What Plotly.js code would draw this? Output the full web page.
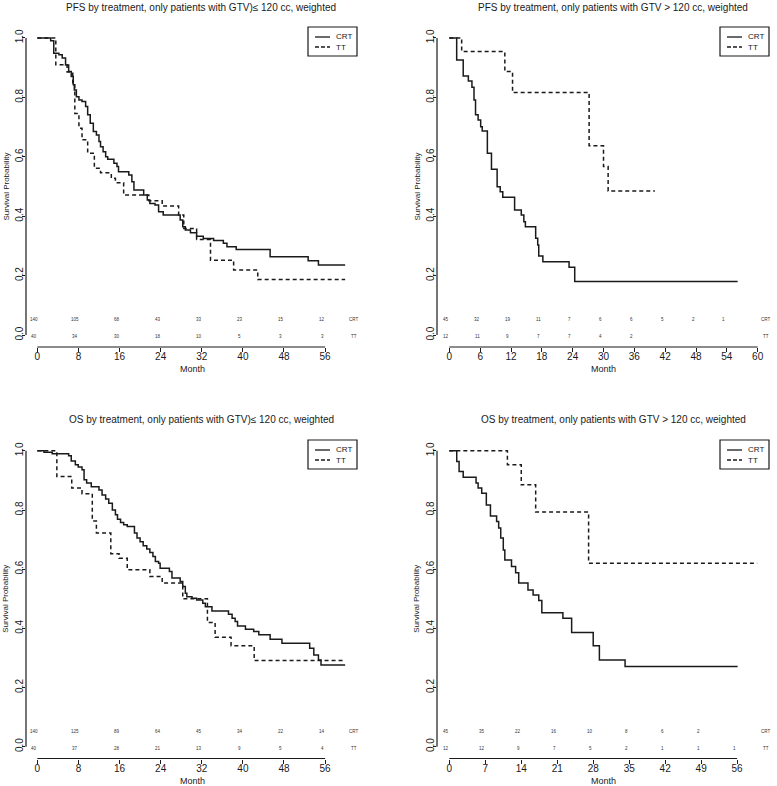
<!DOCTYPE html>
<html>
<head>
<meta charset="utf-8">
<script src="https://cdn.plot.ly/plotly-3.0.1.min.js"></script>
<style>html,body{margin:0;padding:0;background:#fff;}#chart{width:777px;height:786px;}</style>
</head>
<body>
<div id="chart"></div>
<script>
// ---------- Data ----------
// Panel 1: PFS, GTV <= 120 cc
const pfsLowCRT_t = [0, 2.6, 3.2, 4.2, 4.85, 5.5, 6.1, 6.6, 7.0, 7.2, 7.6, 8.1, 8.7, 9.4, 9.8, 10.3, 10.9, 11.5, 12.0, 12.3, 12.8, 13.3, 13.7, 14.9, 15.5, 15.8, 17.8, 18.4, 18.8, 20.7, 21.4, 21.9, 22.9, 23.6, 24.5, 27.8, 28.3, 28.8, 29.8, 31.0, 32.3, 34.3, 36.2, 36.9, 38.7, 45.3, 52.7, 54.7, 59.9];
const pfsLowCRT_s = [1, 0.99, 0.948, 0.943, 0.932, 0.909, 0.887, 0.87, 0.842, 0.825, 0.802, 0.791, 0.786, 0.769, 0.741, 0.713, 0.685, 0.673, 0.651, 0.634, 0.617, 0.6, 0.592, 0.578, 0.567, 0.55, 0.539, 0.516, 0.488, 0.471, 0.455, 0.443, 0.438, 0.415, 0.404, 0.387, 0.365, 0.354, 0.344, 0.333, 0.325, 0.318, 0.309, 0.297, 0.288, 0.264, 0.25, 0.236, 0.236];
const pfsLowTT_t = [0, 3.6, 5.8, 6.9, 7.3, 8.1, 8.7, 9.8, 11.1, 12.3, 14.4, 15.2, 16.8, 21.7, 24.3, 27.5, 28.5, 31.0, 33.7, 38.2, 42.9, 59.9];
const pfsLowTT_s = [1, 0.91, 0.885, 0.842, 0.746, 0.696, 0.657, 0.612, 0.561, 0.546, 0.528, 0.513, 0.471, 0.452, 0.434, 0.404, 0.359, 0.322, 0.252, 0.219, 0.187, 0.187];
const pfsLowTicks = [0, 8, 16, 24, 32, 40, 48, 56];
const pfsLowRiskCRT = [140, 105, 68, 43, 33, 23, 15, 12];
const pfsLowRiskTT = [40, 34, 30, 18, 10, 5, 3, 3];

// Panel 2: PFS, GTV > 120 cc
const pfsHighCRT_t = [0, 1.43, 2.7, 3.7, 4.4, 4.8, 5.1, 5.6, 6.1, 6.4, 7.4, 8.2, 9.3, 9.9, 10.4, 12.7, 14.0, 14.5, 14.8, 16.8, 17.2, 17.4, 18.2, 23.3, 24.4, 56.1];
const pfsHighCRT_s = [1, 0.926, 0.872, 0.855, 0.834, 0.791, 0.741, 0.724, 0.701, 0.687, 0.612, 0.558, 0.499, 0.482, 0.464, 0.421, 0.404, 0.381, 0.365, 0.326, 0.303, 0.266, 0.247, 0.228, 0.18, 0.18];
const pfsHighTT_t = [0, 2.4, 10.8, 12.3, 27.2, 30.0, 30.9, 40.0];
const pfsHighTT_s = [1, 0.954, 0.887, 0.816, 0.637, 0.567, 0.485, 0.485];
const pfsHighTicks = [0, 6, 12, 18, 24, 30, 36, 42, 48, 54, 60];
const pfsHighRiskCRT = [45, 32, 19, 11, 7, 6, 6, 5, 2, 1];
const pfsHighRiskTT = [12, 11, 9, 7, 7, 4, 2];

// Panel 3: OS, GTV <= 120 cc
const osLowCRT_t = [0, 1.3, 2.9, 6.1, 6.6, 7.4, 7.96, 8.7, 9.1, 9.6, 10.5, 12.0, 12.6, 13.3, 13.9, 14.6, 15.2, 15.6, 16.2, 16.8, 17.5, 18.9, 19.4, 20.0, 20.6, 21.3, 21.9, 22.5, 22.97, 23.6, 23.9, 25.7, 26.2, 27.8, 28.3, 28.8, 29.1, 30.1, 31.0, 32.2, 32.7, 33.98, 37.2, 37.9, 38.5, 38.96, 40.5, 42.1, 43.1, 45.3, 47.6, 53.0, 53.8, 54.7, 55.2, 59.9];
const osLowCRT_s = [1, 0.995, 0.99, 0.983, 0.966, 0.953, 0.945, 0.936, 0.902, 0.891, 0.879, 0.868, 0.851, 0.837, 0.823, 0.8, 0.784, 0.769, 0.758, 0.75, 0.744, 0.722, 0.705, 0.693, 0.679, 0.668, 0.656, 0.643, 0.626, 0.62, 0.603, 0.592, 0.57, 0.558, 0.541, 0.519, 0.507, 0.502, 0.496, 0.485, 0.473, 0.459, 0.448, 0.434, 0.423, 0.408, 0.397, 0.389, 0.378, 0.363, 0.35, 0.333, 0.31, 0.293, 0.276, 0.276];
const osLowTT_t = [0, 3.8, 6.7, 8.7, 10.7, 11.5, 14.3, 15.9, 17.5, 21.9, 24.3, 28.3, 33.1, 34.6, 37.7, 42.2, 59.9];
const osLowTT_s = [1, 0.913, 0.874, 0.855, 0.763, 0.722, 0.652, 0.637, 0.598, 0.575, 0.553, 0.5, 0.42, 0.37, 0.341, 0.291, 0.291];
const osLowTicks = [0, 8, 16, 24, 32, 40, 48, 56];
const osLowRiskCRT = [140, 125, 89, 64, 45, 34, 22, 14];
const osLowRiskTT = [40, 37, 28, 21, 13, 9, 5, 4];

// Panel 4: OS, GTV > 120 cc
const osHighCRT_t = [0, 1.44, 1.9, 2.7, 5.2, 5.6, 6.3, 7.2, 8.0, 9.2, 9.6, 10.0, 10.5, 10.8, 12.1, 12.9, 13.5, 15.3, 16.3, 17.4, 18.0, 22.1, 23.8, 28.0, 29.2, 34.2, 56.1];
const osHighCRT_s = [1, 0.964, 0.93, 0.911, 0.891, 0.874, 0.857, 0.817, 0.78, 0.761, 0.739, 0.705, 0.665, 0.631, 0.609, 0.588, 0.553, 0.53, 0.513, 0.494, 0.453, 0.434, 0.386, 0.341, 0.293, 0.271, 0.271];
const osHighTT_t = [0, 11.3, 14.0, 16.8, 27.1, 59.9];
const osHighTT_s = [1, 0.953, 0.885, 0.793, 0.62, 0.62];
const osHighTicks = [0, 7, 14, 21, 28, 35, 42, 49, 56];
const osHighRiskCRT = [45, 35, 22, 16, 10, 8, 6, 2];
const osHighRiskTT = [12, 12, 9, 7, 5, 2, 1, 1, 1];

const yTicks = [0, 0.2, 0.4, 0.6, 0.8, 1.0];
const yTickText = ['0.0', '0.2', '0.4', '0.6', '0.8', '1.0'];
const groupNames = ['CRT', 'TT'];

const titles = [
  'PFS by treatment, only patients with GTV)\u2264 120 cc, weighted',
  'PFS by treatment, only patients with GTV > 120 cc, weighted',
  'OS by treatment, only patients with GTV)\u2264 120 cc, weighted',
  'OS by treatment, only patients with GTV > 120 cc, weighted'
];

// ---------- Layout helpers ----------
const W = 777, H = 786;
const fx = p => p / W;
const fy = p => 1 - p / H;
const FONT = 'Liberation Sans, Arial, Helvetica, sans-serif';
const INK = '#1a1a1a';

const panels = [
  {crt: [pfsLowCRT_t, pfsLowCRT_s], tt: [pfsLowTT_t, pfsLowTT_s], ticks: pfsLowTicks, riskCRT: pfsLowRiskCRT, riskTT: pfsLowRiskTT,
   left: 26, right: 358, top: 26, bottom: 347, xr: [-2.2, 62.4], axisEnd: 56, titleX: 201, titleY: 8},
  {crt: [pfsHighCRT_t, pfsHighCRT_s], tt: [pfsHighTT_t, pfsHighTT_s], ticks: pfsHighTicks, riskCRT: pfsHighRiskCRT, riskTT: pfsHighRiskTT,
   left: 437, right: 770, top: 26, bottom: 347, xr: [-2.4, 62.4], axisEnd: 60, titleX: 613, titleY: 8},
  {crt: [osLowCRT_t, osLowCRT_s], tt: [osLowTT_t, osLowTT_s], ticks: osLowTicks, riskCRT: osLowRiskCRT, riskTT: osLowRiskTT,
   left: 26, right: 358, top: 439, bottom: 758.5, xr: [-2.2, 62.4], axisEnd: 56, titleX: 201, titleY: 419},
  {crt: [osHighCRT_t, osHighCRT_s], tt: [osHighTT_t, osHighTT_s], ticks: osHighTicks, riskCRT: osHighRiskCRT, riskTT: osHighRiskTT,
   left: 437, right: 770, top: 439, bottom: 758.5, xr: [-2.4, 62.4], axisEnd: 56, titleX: 613, titleY: 419}
];

const data = [];
const layout = {
  width: W, height: H,
  margin: {l: 0, r: 0, t: 0, b: 0},
  paper_bgcolor: '#fff', plot_bgcolor: '#fff',
  showlegend: false,
  font: {family: FONT, color: INK},
  shapes: [], annotations: []
};

panels.forEach((p, i) => {
  const n = i + 1;
  const xa = 'x' + (n === 1 ? '' : n), ya = 'y' + (n === 1 ? '' : n);
  const xk = 'xaxis' + (n === 1 ? '' : n), yk = 'yaxis' + (n === 1 ? '' : n);

  data.push({x: p.crt[0], y: p.crt[1], xaxis: xa, yaxis: ya, type: 'scatter', mode: 'lines', name: groupNames[0],
             line: {shape: 'hv', color: INK, width: 1.5}, hoverinfo: 'skip'});
  data.push({x: p.tt[0], y: p.tt[1], xaxis: xa, yaxis: ya, type: 'scatter', mode: 'lines', name: groupNames[1],
             line: {shape: 'hv', color: INK, width: 1.5, dash: '4px,3px'}, hoverinfo: 'skip'});

  layout[xk] = {
    domain: [fx(p.left), fx(p.right)], range: p.xr, anchor: ya,
    tickmode: 'array', tickvals: p.ticks, ticktext: p.ticks.map(String),
    ticks: 'outside', ticklen: 4, tickwidth: 1, tickcolor: INK, ticklabelstandoff: -4,
    showline: false, showgrid: false, zeroline: false,
    tickfont: {size: 10, family: FONT, color: INK}, fixedrange: true
  };
  layout[yk] = {
    domain: [fy(p.bottom), fy(p.top)], range: [-0.04, 1.04], anchor: xa,
    tickmode: 'array', tickvals: yTicks, ticktext: yTickText, tickangle: -90,
    ticks: 'outside', ticklen: 3, tickwidth: 1, tickcolor: INK, ticklabelstandoff: -5,
    showline: false, showgrid: false, zeroline: false,
    tickfont: {size: 10, family: FONT, color: INK}, fixedrange: true
  };

  // R-style axis lines (span first to last tick)
  layout.shapes.push({type: 'line', xref: xa, yref: ya + ' domain', x0: 0, x1: p.axisEnd, y0: 0, y1: 0,
                      line: {color: INK, width: 1.2}});
  layout.shapes.push({type: 'line', xref: xa + ' domain', yref: ya, x0: 0, x1: 0, y0: 0, y1: 1,
                      line: {color: INK, width: 1.2}});

  // Risk table (numbers at risk)
  p.riskCRT.forEach((v, k) => layout.annotations.push({xref: xa, yref: ya, x: p.ticks[k], y: 0.052, text: String(v),
    showarrow: false, xanchor: 'center', yanchor: 'middle', xshift: -3, font: {size: 4.5, color: '#333'}}));
  p.riskTT.forEach((v, k) => layout.annotations.push({xref: xa, yref: ya, x: p.ticks[k], y: -0.006, text: String(v),
    showarrow: false, xanchor: 'center', yanchor: 'middle', xshift: -3, font: {size: 4.5, color: '#333'}}));
  layout.annotations.push({xref: xa, yref: ya, x: 61.6, y: 0.052, text: groupNames[0], showarrow: false,
    xanchor: 'center', yanchor: 'middle', font: {size: 4.5, color: '#333'}});
  layout.annotations.push({xref: xa, yref: ya, x: 61.6, y: -0.006, text: groupNames[1], showarrow: false,
    xanchor: 'center', yanchor: 'middle', font: {size: 4.5, color: '#333'}});

  // Title
  layout.annotations.push({xref: 'paper', yref: 'paper', x: fx(p.titleX), y: fy(p.titleY), text: titles[i],
    showarrow: false, xanchor: 'center', yanchor: 'middle', font: {size: 10, color: INK}});
  // Axis titles
  const midX = (p.left + p.right) / 2, midY = (p.top + p.bottom) / 2;
  layout.annotations.push({xref: 'paper', yref: 'paper', x: fx(midX), y: fy(p.bottom + 22), text: 'Month',
    showarrow: false, xanchor: 'center', yanchor: 'middle', font: {size: 9, color: INK}});
  layout.annotations.push({xref: 'paper', yref: 'paper', x: fx(p.left - 20), y: fy(midY), text: 'Survival Probability',
    showarrow: false, xanchor: 'center', yanchor: 'middle', textangle: -90, font: {size: 8, color: INK}});

  // Legend box (top-right of plot region)
  const bx1 = p.right - 1, bx0 = bx1 - 49, by0 = p.top + 1, by1 = by0 + 29;
  layout.shapes.push({type: 'rect', xref: 'paper', yref: 'paper', x0: fx(bx0), x1: fx(bx1), y0: fy(by1), y1: fy(by0),
                      line: {color: INK, width: 1.2}, fillcolor: 'rgba(0,0,0,0)'});
  layout.shapes.push({type: 'line', xref: 'paper', yref: 'paper', x0: fx(bx0 + 7), x1: fx(bx0 + 22), y0: fy(by0 + 10), y1: fy(by0 + 10),
                      line: {color: INK, width: 1.3}});
  layout.shapes.push({type: 'line', xref: 'paper', yref: 'paper', x0: fx(bx0 + 7), x1: fx(bx0 + 22), y0: fy(by0 + 20), y1: fy(by0 + 20),
                      line: {color: INK, width: 1.3, dash: '4px,2px'}});
  layout.annotations.push({xref: 'paper', yref: 'paper', x: fx(bx0 + 26), y: fy(by0 + 10), text: groupNames[0],
    showarrow: false, xanchor: 'left', yanchor: 'middle', font: {size: 8, color: INK}});
  layout.annotations.push({xref: 'paper', yref: 'paper', x: fx(bx0 + 26), y: fy(by0 + 20), text: groupNames[1],
    showarrow: false, xanchor: 'left', yanchor: 'middle', font: {size: 8, color: INK}});
});

Plotly.newPlot('chart', data, layout, {displayModeBar: false, staticPlot: true});
</script>
</body>
</html>
